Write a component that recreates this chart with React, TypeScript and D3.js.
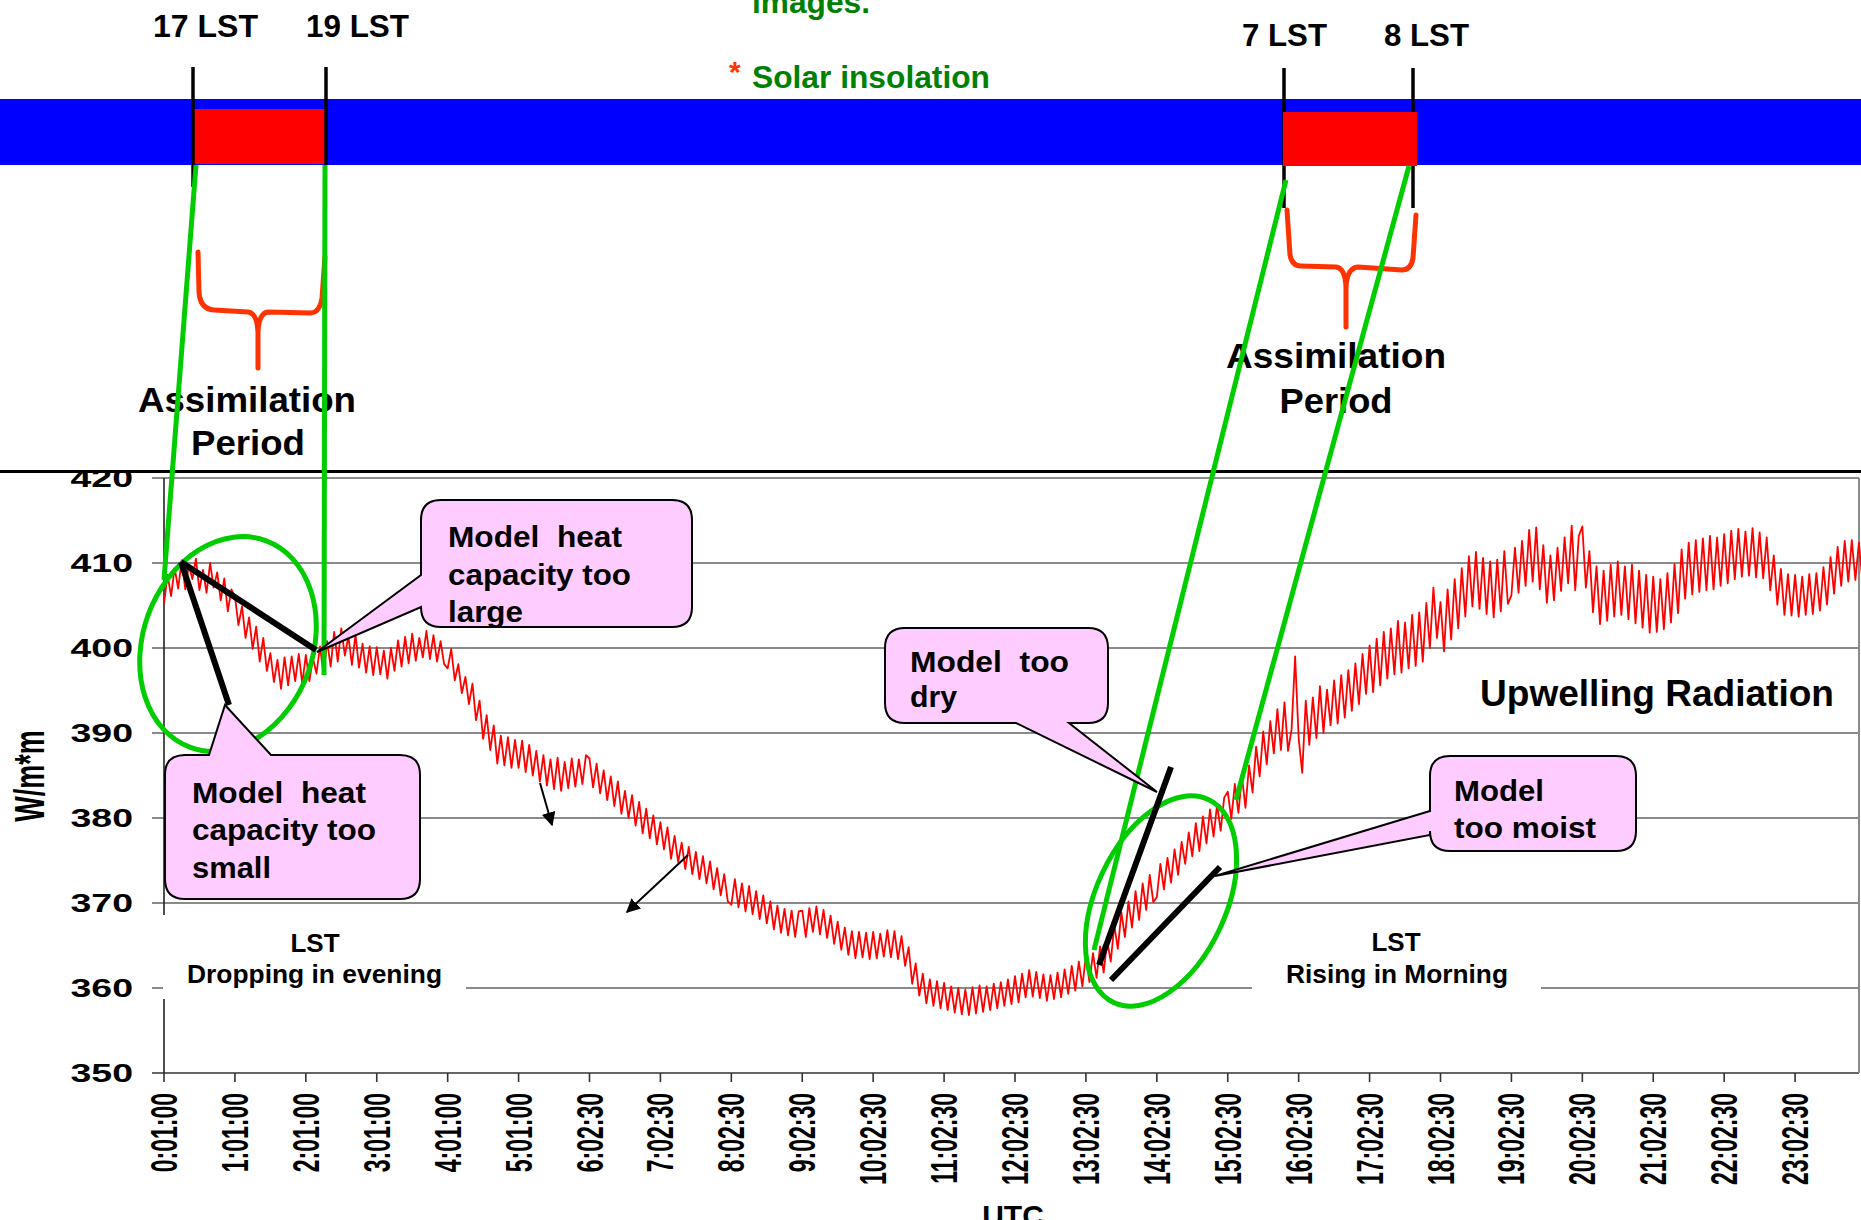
import React from "react";
import * as d3 from "d3";

// ---------- DATA ----------
const xTickLabels: string[] = [
  "0:01:00", "1:01:00", "2:01:00", "3:01:00", "4:01:00", "5:01:00",
  "6:02:30", "7:02:30", "8:02:30", "9:02:30", "10:02:30", "11:02:30",
  "12:02:30", "13:02:30", "14:02:30", "15:02:30", "16:02:30", "17:02:30",
  "18:02:30", "19:02:30", "20:02:30", "21:02:30", "22:02:30", "23:02:30",
];
const yTicks: number[] = [350, 360, 370, 380, 390, 400, 410, 420];
const sampleStepMinutes = 3;
// Upwelling radiation (W/m*m), one value every 3 minutes (one row per hour)
const upwelling: number[] = [
  405.2, 408.6, 406.1, 409.4, 407.0, 410.3, 406.9, 409.8, 408.1, 410.5, 406.8, 409.2, 406.5, 410.0, 407.1, 408.9, 405.6, 408.2, 404.3, 406.9,
  406.1, 402.7, 404.9, 401.2, 403.6, 399.9, 402.5, 398.4, 401.2, 397.3, 399.4, 396.0, 398.6, 395.2, 398.9, 395.6, 399.0, 396.1, 399.3, 395.8,
  399.2, 396.1, 398.8, 397.0, 400.2, 396.9, 400.8, 397.8, 401.9, 398.4, 402.3, 399.1, 401.4, 398.0, 401.6, 397.7, 400.5, 397.1, 400.2, 396.8,
  400.1, 396.9, 399.7, 396.4, 400.0, 397.3, 400.9, 397.8, 401.3, 398.2, 401.7, 398.5, 401.2, 398.9, 402.0, 398.7, 401.5, 398.4, 400.8, 398.1,
  397.6, 399.9, 396.2, 398.1, 394.7, 396.6, 393.4, 395.8, 391.5, 393.8, 389.3, 392.1, 388.0, 390.9, 386.4, 389.7, 386.2, 389.5, 385.9, 389.2,
  385.9, 389.1, 385.4, 388.6, 385.0, 387.9, 384.3, 387.4, 383.8, 386.9, 383.4, 387.1, 383.2, 386.6, 383.5, 387.0, 383.7, 386.9, 384.0, 387.4,
  387.0, 383.6, 386.4, 382.9, 385.6, 382.1, 384.9, 381.4, 384.3, 380.5, 383.2, 380.0, 382.7, 379.1, 381.9, 378.2, 381.1, 377.6, 380.3, 376.9,
  379.5, 376.3, 378.9, 375.2, 377.9, 374.8, 377.1, 374.0, 376.6, 373.4, 376.0, 372.8, 375.5, 372.3, 374.9, 371.6, 374.1, 370.9, 373.4, 370.2,
  369.8, 372.8, 369.5, 372.3, 369.0, 372.0, 368.7, 371.4, 368.1, 370.9, 367.6, 370.2, 366.9, 369.7, 366.5, 369.3, 366.2, 369.1, 366.0, 369.0,
  369.1, 366.0, 369.4, 366.6, 369.6, 366.3, 369.2, 365.9, 368.5, 365.2, 367.8, 364.5, 367.1, 363.9, 366.7, 363.5, 366.6, 363.6, 366.5, 363.4,
  366.6, 363.5, 366.4, 363.7, 366.8, 363.6, 366.7, 363.4, 366.1, 362.6, 364.8, 360.5, 362.9, 359.1, 361.7, 358.2, 361.0, 357.9, 360.8, 357.6,
  360.6, 357.4, 360.2, 357.1, 360.0, 356.9, 359.8, 356.8, 360.1, 357.0, 360.3, 357.2, 360.2, 357.4, 360.5, 357.6, 360.7, 357.9, 361.0, 358.1,
  361.4, 358.3, 361.7, 358.9, 362.1, 359.0, 361.9, 358.8, 361.6, 358.5, 361.5, 358.7, 361.8, 358.9, 362.2, 359.3, 362.6, 359.7, 363.1, 360.2,
  363.8, 360.7, 364.1, 361.2, 364.9, 361.8, 365.6, 363.1, 367.4, 364.6, 368.9, 366.0, 370.2, 367.1, 371.4, 368.0, 372.3, 369.2, 373.3, 370.1,
  370.7, 374.6, 371.6, 375.3, 372.4, 376.3, 373.3, 377.2, 374.6, 378.3, 375.5, 379.4, 376.1, 380.2, 377.0, 381.0, 377.8, 381.6, 378.5, 382.4,
  383.1, 379.9, 384.0, 380.6, 384.9, 381.2, 386.2, 383.0, 388.4, 384.9, 390.2, 386.3, 391.4, 387.6, 392.8, 388.0, 393.6, 387.9, 390.4, 399.0,
  389.4, 385.3, 393.8, 388.6, 394.2, 389.4, 395.5, 390.0, 395.1, 390.9, 396.2, 391.1, 396.8, 391.8, 397.4, 392.6, 398.2, 393.4, 399.3, 394.6,
  400.3, 394.8, 401.1, 395.6, 401.9, 396.4, 402.3, 396.9, 403.2, 397.1, 403.0, 397.6, 403.9, 397.9, 404.2, 398.4, 405.3, 400.0, 407.1, 401.2,
  405.4, 399.6, 406.9, 401.0, 408.1, 402.3, 409.4, 403.7, 410.8, 404.9, 411.3, 404.6, 410.6, 404.0, 410.2, 403.6, 410.4, 404.3, 411.4, 405.2,
  406.2, 411.8, 406.5, 412.6, 407.3, 413.9, 407.8, 414.2, 406.9, 412.1, 405.3, 410.9, 405.6, 411.8, 406.7, 413.0, 407.6, 414.4, 406.8, 413.2,
  414.3, 407.1, 411.4, 404.2, 409.6, 402.8, 409.1, 403.2, 409.8, 403.7, 410.2, 403.9, 409.6, 403.4, 409.8, 402.9, 409.1, 402.4, 408.6, 401.8,
  408.4, 401.9, 408.1, 402.2, 408.8, 403.0, 409.9, 404.1, 411.6, 405.8, 412.4, 406.3, 412.7, 406.6, 412.9, 406.8, 413.2, 406.9, 413.0, 407.3,
  413.4, 407.6, 413.8, 408.1, 414.0, 408.4, 413.7, 408.5, 414.1, 408.3, 413.6, 408.2, 413.0, 406.8, 410.9, 405.1, 409.3, 403.9, 408.7, 403.8,
  408.6, 403.7, 408.4, 403.9, 408.7, 404.0, 408.8, 404.4, 409.5, 405.1, 410.7, 406.4, 411.9, 407.3, 412.6, 407.8, 412.7, 408.0, 412.4, 407.9,
];

// ---------- LAYOUT ----------
const W = 1861;
const H = 1220;
const FONT = "'Liberation Sans', Arial, Helvetica, sans-serif";
const GREEN = "#00CC00";
const ORANGE = "#FF3300";
const PINK = "#FFCCFF";

const x = d3.scaleLinear().domain([0, 24]).range([164, 1866]);
const y = d3.scaleLinear().domain([350, 420]).range([1073, 478]);

const linePath = d3
  .line<number>()
  .x((_, i) => x((i * sampleStepMinutes) / 60))
  .y((d) => y(d))(upwelling) as string;

function calloutLeft(x0: number, y0: number, x1: number, y1: number, r: number, p1: number, p2: number, tx: number, ty: number) {
  return `M${x0 + r},${y0} H${x1 - r} Q${x1},${y0} ${x1},${y0 + r} V${y1 - r} Q${x1},${y1} ${x1 - r},${y1} H${x0 + r} Q${x0},${y1} ${x0},${y1 - r} V${p2} L${tx},${ty} L${x0},${p1} V${y0 + r} Q${x0},${y0} ${x0 + r},${y0} Z`;
}
function calloutTop(x0: number, y0: number, x1: number, y1: number, r: number, p1: number, p2: number, tx: number, ty: number) {
  return `M${x0 + r},${y0} H${p1} L${tx},${ty} L${p2},${y0} H${x1 - r} Q${x1},${y0} ${x1},${y0 + r} V${y1 - r} Q${x1},${y1} ${x1 - r},${y1} H${x0 + r} Q${x0},${y1} ${x0},${y1 - r} V${y0 + r} Q${x0},${y0} ${x0 + r},${y0} Z`;
}
function calloutBottom(x0: number, y0: number, x1: number, y1: number, r: number, p1: number, p2: number, tx: number, ty: number) {
  return `M${x0 + r},${y0} H${x1 - r} Q${x1},${y0} ${x1},${y0 + r} V${y1 - r} Q${x1},${y1} ${x1 - r},${y1} H${p2} L${tx},${ty} L${p1},${y1} H${x0 + r} Q${x0},${y1} ${x0},${y1 - r} V${y0 + r} Q${x0},${y0} ${x0 + r},${y0} Z`;
}

const T = (props: any) => (
  <text fontFamily={FONT} fontWeight="bold" fill="#000" style={{ whiteSpace: "pre" }} {...props} />
);

export default function App() {
  return (
    <svg
      width={W}
      height={H}
      viewBox={`0 0 ${W} ${H}`}
      style={{ position: "absolute", left: 0, top: 0, background: "#fff" }}
    >
      <defs>
        <marker id="ah" viewBox="0 0 10 10" refX="9" refY="5" markerWidth="7" markerHeight="7" orient="auto-start-reverse">
          <path d="M0,0 L10,5 L0,10 Z" fill="#000" />
        </marker>
      </defs>
      <rect x={0} y={0} width={W} height={H} fill="#fff" />

      {/* ---------- CHART ---------- */}
      {yTicks.filter((v) => v > 350).map((v) => (
        <line key={v} x1={152} x2={1859} y1={y(v)} y2={y(v)} stroke="#8a8a8a" strokeWidth={2} />
      ))}
      <line x1={152} x2={1859} y1={y(350)} y2={y(350)} stroke="#666" strokeWidth={2.2} />
      <line x1={1859} x2={1859} y1={y(420)} y2={y(350)} stroke="#8a8a8a" strokeWidth={2} />
      <line x1={x(0)} x2={x(0)} y1={y(420)} y2={y(350)} stroke="#222" strokeWidth={1.6} />
      {xTickLabels.map((_, i) => (
        <line key={i} x1={x(i)} x2={x(i)} y1={y(350)} y2={y(350) + 9} stroke="#333" strokeWidth={1.6} />
      ))}

      {/* y tick labels */}
      {yTicks.map((v) => (
        <T key={v} fontSize={25} textAnchor="end" transform={`translate(133,${y(v) + 9}) scale(1.5,1)`}>
          {v}
        </T>
      ))}
      {/* x tick labels */}
      {xTickLabels.map((s, i) => (
        <T key={s} fontSize={23} textAnchor="end" transform={`translate(${x(i) + 13},1093) scale(1.6,1) rotate(-90)`}>
          {s}
        </T>
      ))}
      <T fontSize={27} textAnchor="middle" transform="translate(44,776) scale(1.55,1) rotate(-90)">
        W/m*m
      </T>
      <T fontSize={30} textAnchor="middle" x={1013} y={1226}>UTC</T>

      {/* data */}
      <path d={linePath} fill="none" stroke="#FF0000" strokeWidth={1.8} strokeLinejoin="round" />

      {/* LST text boxes */}
      <rect x={163} y={915} width={303} height={84} fill="#fff" />
      <T fontSize={26} textAnchor="middle" x={315} y={952}>LST</T>
      <T fontSize={25} x={187} y={983} textLength={255} lengthAdjust="spacingAndGlyphs">Dropping in evening</T>
      <rect x={1252} y={915} width={289} height={84} fill="#fff" />
      <T fontSize={26} textAnchor="middle" x={1396} y={951}>LST</T>
      <T fontSize={25} x={1286} y={983} textLength={222} lengthAdjust="spacingAndGlyphs">Rising in Morning</T>

      <T fontSize={36} x={1480} y={706} textLength={354} lengthAdjust="spacingAndGlyphs">Upwelling Radiation</T>

      {/* small arrows */}
      <line x1={540} y1={783} x2={552} y2={825} stroke="#000" strokeWidth={2} markerEnd="url(#ah)" />
      <line x1={688} y1={855} x2={627} y2={912} stroke="#000" strokeWidth={2} markerEnd="url(#ah)" />

      {/* ---------- TOP PANEL ---------- */}
      <rect x={0} y={0} width={W} height={470} fill="#fff" />
      <line x1={0} x2={W} y1={471.5} y2={471.5} stroke="#000" strokeWidth={3} />

      <T fontSize={31} fill="#008000" x={752} y={13} textLength={118} lengthAdjust="spacingAndGlyphs">images.</T>
      <T fontSize={30} fill="#FF3300" x={729} y={82}>*</T>
      <T fontSize={31} fill="#008000" x={752} y={88} textLength={238} lengthAdjust="spacingAndGlyphs">Solar insolation</T>

      <T fontSize={31} x={153} y={37} textLength={105} lengthAdjust="spacingAndGlyphs">17 LST</T>
      <T fontSize={31} x={306} y={37} textLength={103} lengthAdjust="spacingAndGlyphs">19 LST</T>
      <T fontSize={31} x={1242} y={46} textLength={85} lengthAdjust="spacingAndGlyphs">7 LST</T>
      <T fontSize={31} x={1384} y={46} textLength={85} lengthAdjust="spacingAndGlyphs">8 LST</T>

      <rect x={0} y={99} width={W} height={66} fill="#0000FF" />

      {/* left marker */}
      <rect x={191} y={109} width={136} height={55} fill="#FF0000" />
      <line x1={193} x2={193} y1={67} y2={187} stroke="#000" strokeWidth={3.5} />
      <line x1={326} x2={326} y1={67} y2={165} stroke="#000" strokeWidth={3.5} />
      {/* right marker */}
      <line x1={1284} x2={1284} y1={68} y2={208} stroke="#000" strokeWidth={3.5} />
      <line x1={1413} x2={1413} y1={68} y2={208} stroke="#000" strokeWidth={3.5} />
      <rect x={1283} y={112} width={134} height={54} fill="#FF0000" />

      {/* braces */}
      <path
        d="M198,252 L199,292 Q200,309 214,310 L248,312 Q257,313 258,332 L258,368 M258,332 Q259,313 268,312 L311,313 Q320,312 322,298 L325,257"
        fill="none" stroke={ORANGE} strokeWidth={5} strokeLinecap="round" strokeLinejoin="round"
      />
      <path
        d="M1287,210 L1290,255 Q1292,266 1301,266 L1336,267 Q1345,268 1346,287 L1346,327 M1346,287 Q1347,268 1358,267 L1402,270 Q1411,270 1413,258 L1416,215"
        fill="none" stroke={ORANGE} strokeWidth={5} strokeLinecap="round" strokeLinejoin="round"
      />

      <T fontSize={35} textAnchor="middle" x={247} y={412} textLength={218} lengthAdjust="spacingAndGlyphs">Assimilation</T>
      <T fontSize={35} textAnchor="middle" x={248} y={455} textLength={114} lengthAdjust="spacingAndGlyphs">Period</T>
      <T fontSize={35} textAnchor="middle" x={1336} y={368} textLength={220} lengthAdjust="spacingAndGlyphs">Assimilation</T>
      <T fontSize={35} textAnchor="middle" x={1336} y={413} textLength={113} lengthAdjust="spacingAndGlyphs">Period</T>

      {/* ---------- ANNOTATIONS ---------- */}
      <ellipse cx={228} cy={644} rx={85} ry={110} transform="rotate(20,228,644)" fill="none" stroke={GREEN} strokeWidth={5} />
      <ellipse cx={1161} cy={901} rx={65} ry={112} transform="rotate(25,1161,901)" fill="none" stroke={GREEN} strokeWidth={5} />

      <line x1={196} y1={165} x2={164} y2={580} stroke={GREEN} strokeWidth={5} />
      <line x1={325} y1={165} x2={324} y2={675} stroke={GREEN} strokeWidth={5} />
      <line x1={1286} y1={180} x2={1094} y2={950} stroke={GREEN} strokeWidth={5} />
      <line x1={1409} y1={166} x2={1236} y2={800} stroke={GREEN} strokeWidth={5} />

      <line x1={181} y1={562} x2={316} y2={650} stroke="#000" strokeWidth={6} />
      <line x1={181} y1={562} x2={229} y2={705} stroke="#000" strokeWidth={6} />
      <line x1={1099} y1={965} x2={1171} y2={767} stroke="#000" strokeWidth={6} />
      <line x1={1111} y1={980} x2={1220} y2={867} stroke="#000" strokeWidth={6} />

      {/* callouts */}
      <path d={calloutLeft(421, 500, 692, 627, 20, 575, 607, 317, 652)} fill={PINK} stroke="#000" strokeWidth={2} />
      <T fontSize={30} x={448} y={547} textLength={174} lengthAdjust="spacingAndGlyphs">Model  heat</T>
      <T fontSize={30} x={448} y={585} textLength={183} lengthAdjust="spacingAndGlyphs">capacity too</T>
      <T fontSize={30} x={448} y={622} textLength={75} lengthAdjust="spacingAndGlyphs">large</T>

      <path d={calloutTop(165, 755, 420, 899, 20, 209, 271, 225, 705)} fill={PINK} stroke="#000" strokeWidth={2} />
      <T fontSize={30} x={192} y={803} textLength={174} lengthAdjust="spacingAndGlyphs">Model  heat</T>
      <T fontSize={30} x={192} y={840} textLength={184} lengthAdjust="spacingAndGlyphs">capacity too</T>
      <T fontSize={30} x={192} y={878} textLength={79} lengthAdjust="spacingAndGlyphs">small</T>

      <path d={calloutBottom(885, 628, 1108, 723, 20, 1016, 1069, 1157, 792)} fill={PINK} stroke="#000" strokeWidth={2} />
      <T fontSize={30} x={910} y={672} textLength={159} lengthAdjust="spacingAndGlyphs">Model  too</T>
      <T fontSize={30} x={910} y={707} textLength={47} lengthAdjust="spacingAndGlyphs">dry</T>

      <path d={calloutLeft(1430, 756, 1636, 851, 20, 811, 835, 1215, 876)} fill={PINK} stroke="#000" strokeWidth={2} />
      <T fontSize={30} x={1454} y={801} textLength={90} lengthAdjust="spacingAndGlyphs">Model</T>
      <T fontSize={30} x={1454} y={838} textLength={142} lengthAdjust="spacingAndGlyphs">too moist</T>
    </svg>
  );
}
